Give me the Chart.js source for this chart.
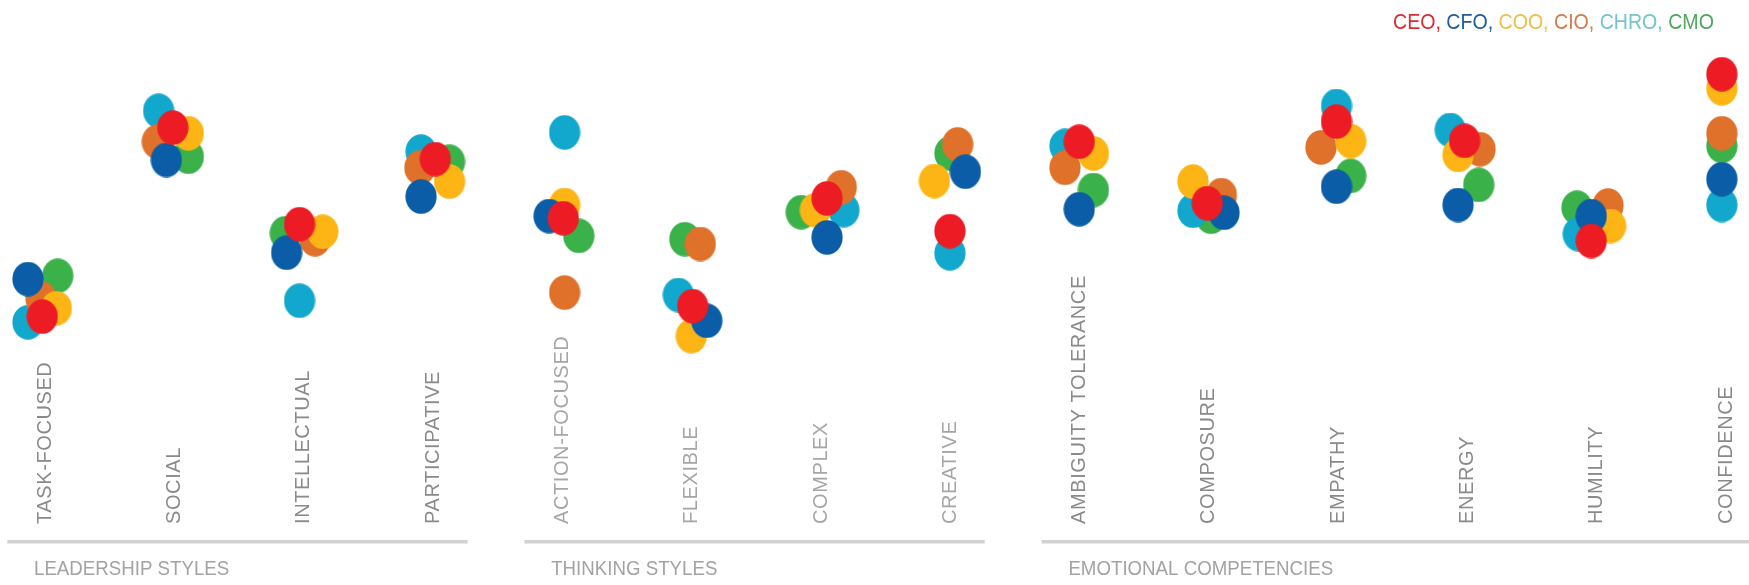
<!DOCTYPE html>
<html>
<head>
<meta charset="utf-8">
<script src="https://cdn.jsdelivr.net/npm/chart.js@4.4.0/dist/chart.umd.min.js"></script>
<style>
html, body { margin: 0; padding: 0; background: #fff; }
#contenedor { position: relative; width: 1749px; height: 585px; }
</style>
</head>
<body>
<div id="contenedor"><canvas id="miGraficoRoles"></canvas></div>
<script>
const categorias = ['TASK-FOCUSED', 'SOCIAL', 'INTELLECTUAL', 'PARTICIPATIVE',
    'ACTION-FOCUSED', 'FLEXIBLE', 'COMPLEX', 'CREATIVE',
    'AMBIGUITY TOLERANCE', 'COMPOSURE', 'EMPATHY', 'ENERGY', 'HUMILITY', 'CONFIDENCE']
const grupos = ['LEADERSHIP STYLES', 'THINKING STYLES', 'EMOTIONAL COMPETENCIES']
const grupoInicio = [0, 4, 8]
const grupoFin = [3, 7, 13]
const roles = ['CEO', 'CFO', 'COO', 'CIO', 'CHRO', 'CMO']

// valores (escala relativa, 0-100)
const ceo  = [7.8, 70.8, 38.6, 60.3, 40.6, 11.3, 47.2, 36.3, 66.1, 45.6, 72.8, 66.4, 33.0, 88.6]
const cfo  = [20.3, 60.0, 29.1, 47.8, 41.3, 6.4, 34.2, 56.1, 43.6, 42.4, 51.1, 45.0, 41.3, 53.6]
const coo  = [10.6, 68.9, 36.1, 52.8, 45.0, 1.3, 43.3, 53.0, 62.2, 52.8, 66.3, 61.7, 38.0, 83.9]
const cio  = [13.9, 66.1, 33.6, 57.4, 15.8, 32.0, 50.9, 65.2, 57.4, 48.3, 64.2, 63.6, 44.8, 68.9]
const chro = [5.9, 76.4, 13.1, 62.8, 69.2, 15.0, 43.3, 28.9, 64.7, 43.1, 78.0, 70.0, 35.3, 45.0]
const cmo  = [21.4, 61.1, 35.6, 59.4, 34.7, 33.6, 42.6, 62.2, 50.0, 41.1, 54.7, 51.7, 44.1, 64.7]

// desplazamiento horizontal de cada punto dentro de su categoria
const ceoJit  = [-0.01, 0.00, -0.02, 0.03, 0.02, 0.02, 0.06, 0.01, 0.01, 0.00, 0.00, -0.01, -0.03, -0.02]
const cfoJit  = [-0.12, -0.05, -0.12, -0.08, -0.09, 0.13, 0.06, 0.13, 0.01, 0.13, 0.00, -0.06, -0.03, -0.02]
const cooJit  = [0.10, 0.12, 0.16, 0.14, 0.03, 0.01, -0.03, -0.11, 0.12, -0.11, 0.11, -0.06, 0.12, -0.02]
const cioJit  = [-0.02, -0.12, 0.10, -0.09, 0.03, 0.08, 0.17, 0.07, -0.10, 0.11, -0.12, 0.11, 0.10, -0.02]
const chroJit = [-0.12, -0.11, -0.02, -0.08, 0.03, -0.09, 0.19, 0.01, -0.10, -0.11, 0.00, -0.12, -0.13, -0.02]
const cmoJit  = [0.11, 0.12, -0.13, 0.14, 0.14, -0.04, -0.14, 0.01, 0.12, 0.03, 0.11, 0.10, -0.14, -0.02]

const valores = [ceo, cfo, coo, cio, chro, cmo]
const jitters = [ceoJit, cfoJit, cooJit, cioJit, chroJit, cmoJit]
const coloresPunto = ['#ED1C24', '#0A5DA6', '#FDB515', '#E0712A', '#12A8CD', '#3BB14A']
const coloresTexto = ['#DD2A33', '#1F5C99', '#F0BF47', '#D57A4A', '#72C5CB', '#4EA75D']

// punto eliptico (un poco mas alto que ancho)
function elipse(color) {
    const c = document.createElement('canvas')
    c.width = 32; c.height = 35
    const g = c.getContext('2d')
    g.fillStyle = color
    g.beginPath()
    g.ellipse(16, 17.5, 15.6, 17.2, 0, 0, Math.PI * 2)
    g.fill()
    return c
}

const etiquetas = {
    id: 'etiquetas',
    afterDraw(chart) {
        const ctx = chart.ctx
        const xs = chart.scales.x
        const comprimir = 0.89
        ctx.save()

        // nombres de categoria, girados
        ctx.font = '20px "Liberation Sans", Arial, sans-serif'
        ctx.letterSpacing = '0.6px'
        ctx.textAlign = 'left'
        ctx.textBaseline = 'alphabetic'
        categorias.forEach((nombre, i) => {
            ctx.save()
            ctx.translate(xs.getPixelForValue(i), 524)
            ctx.rotate(-Math.PI / 2)
            ctx.fillStyle = (i >= 4 && i <= 7) ? '#a6a6a6' : '#8a8a8a'
            ctx.fillText(nombre, 0, 7.2)
            ctx.restore()
        })
        ctx.letterSpacing = '0px'

        // lineas y titulos de grupo
        ctx.font = '21px "Liberation Sans", Arial, sans-serif'
        grupos.forEach((g, k) => {
            const x0 = xs.getPixelForValue(grupoInicio[k] - 0.28)
            const x1 = Math.min(xs.getPixelForValue(grupoFin[k] + 0.28), chart.width)
            ctx.fillStyle = '#d2d2d2'
            ctx.fillRect(x0, 540, x1 - x0, 3.5)
            ctx.save()
            ctx.translate(xs.getPixelForValue(grupoInicio[k]) - 9.5, 575)
            ctx.scale(comprimir, 1)
            ctx.fillStyle = '#a3a3a3'
            ctx.fillText(g, 0, 0)
            ctx.restore()
        })

        // leyenda de colores arriba a la derecha
        ctx.font = '22px "Liberation Sans", Arial, sans-serif'
        let x = 1393
        roles.forEach((r, k) => {
            const txt = r + (k < roles.length - 1 ? ', ' : '')
            ctx.save()
            ctx.translate(x, 29.3)
            ctx.scale(comprimir, 1)
            ctx.fillStyle = coloresTexto[k]
            ctx.fillText(txt, 0, 0)
            ctx.restore()
            x += ctx.measureText(txt).width * comprimir
        })
        ctx.restore()
    }
}

const datasets = roles.map((r, k) => ({
    label: r,
    data: valores[k].map((v, i) => ({ x: i + jitters[k][i], y: v })),
    pointStyle: elipse(coloresPunto[k]),
    pointRadius: 16,
    pointHoverRadius: 16,
    backgroundColor: coloresPunto[k],
    borderWidth: 0,
    clip: false
}))

const ctx = document.getElementById('miGraficoRoles').getContext('2d')
const graficoRoles = new Chart(ctx, {
    type: 'scatter',
    data: { datasets: datasets },
    options: {
        responsive: true,
        maintainAspectRatio: false,
        animation: false,
        devicePixelRatio: 1,
        layout: { padding: { left: 43.5, right: 24.6, top: 40, bottom: 245 } },
        plugins: {
            legend: { display: false },
            tooltip: { enabled: false }
        },
        events: [],
        scales: {
            x: { type: 'linear', min: 0, max: 13, display: false },
            y: { min: 0, max: 100, display: false }
        }
    },
    plugins: [etiquetas]
});
</script>
</body>
</html>
